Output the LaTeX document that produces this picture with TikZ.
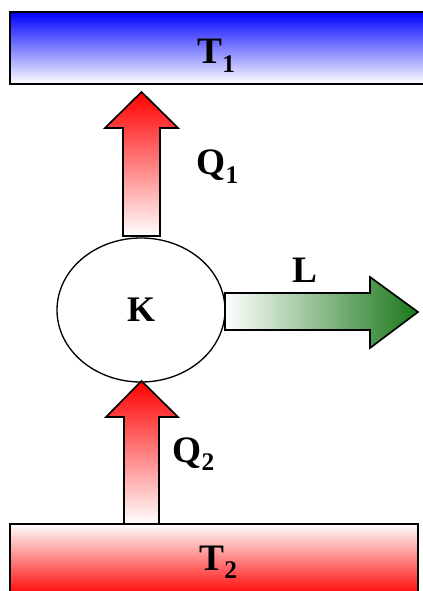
\documentclass[tikz,border=0pt]{standalone}
\usepackage{fontspec}
\usepackage{graphicx}
\setmainfont{Liberation Serif}
\usetikzlibrary{shapes.geometric}
\definecolor{workgreen}{RGB}{25,120,25}
\newcommand{\symsub}[2]{#1\raisebox{-0.22em}{\scalebox{0.68}{#2}}}
\tikzset{every picture/.style={line width=0.75pt},
  outline/.style={draw=black,line width=1.25pt,line join=miter},
  heatflow/.style={outline,top color=red,middle color=red!38,bottom color=white},
  lbl/.style={anchor=base west,inner sep=0pt,font=\fontsize{28}{28}\selectfont\bfseries}}

\begin{document}
\begin{tikzpicture}[x=0.75pt,y=0.75pt,yscale=-1,xscale=1]
\clip (0,0) rectangle (423,591);

%Shape: Rectangle [top]
\draw [outline,top color=blue,middle color=blue!42,bottom color=white] (10,12) rectangle (432,84);
%Shape: Rectangle [bottom]
\draw [outline,top color=white,middle color=red!45,bottom color=red] (10,524) rectangle (418,596);

%Shape: Ellipse
\node [ellipse,draw,line width=1pt,minimum width=126pt,minimum height=108pt,inner sep=0pt] (engine) at (141,310) {};

%Shape: Up Arrow [Q1]
\draw [heatflow] (123,236) -- (123,128) -- (105,128) -- (141.5,92) -- (178,128) -- (160,128) -- (160,236) -- cycle ;
%Shape: Up Arrow [Q2]
\draw [heatflow] (124,524) -- (124,417) -- (106,417) -- (141.5,381) -- (178,417) -- (159,417) -- (159,524) -- cycle ;
%Shape: Right Arrow [L]
\draw [outline,left color=white,middle color=workgreen!38,right color=workgreen] (225,293) -- (370,293) -- (370,277) -- (418,312) -- (370,348) -- (370,330) -- (225,330) -- cycle ;

% Text Node
\node [lbl] (t1) at (197,64) {\symsub{T}{1}};
% Text Node
\node [lbl] (t2) at (199,570) {\symsub{T}{2}};
% Text Node
\node [lbl] (q1) at (196,175) {\symsub{Q}{1}};
% Text Node
\node [lbl] (q2) at (172,462) {\symsub{Q}{2}};
% Text Node
\node [lbl] (l) at (292,282) {L};
% Text Node
\node [font=\fontsize{27}{27}\selectfont\bfseries,inner sep=0pt] (k) at (engine.center) {K};

\end{tikzpicture}
\end{document}
